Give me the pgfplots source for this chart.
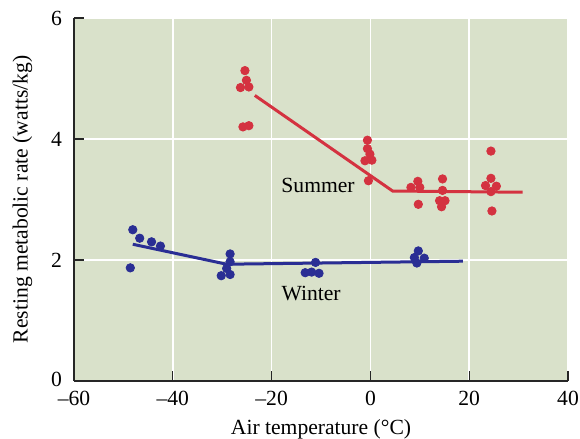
\documentclass[border=0pt]{standalone}
\usepackage{fontspec}
\setmainfont{Liberation Serif}
\usepackage{pgfplots}
\pgfplotsset{compat=1.18}
\definecolor{bgcol}{RGB}{217,225,202}
\definecolor{summer}{RGB}{212,50,64}
\definecolor{winter}{RGB}{42,46,148}
\begin{document}
\begin{tikzpicture}
\begin{axis}[
  scale only axis, width=247pt, height=181.5pt,
  xmin=-60, xmax=40, ymin=0, ymax=6,
  axis lines*=left,
  axis line style={line width=0.6pt, black!85},
  axis background/.style={fill=bgcol},
  xtick={-60,-40,-20,0,20,40}, xticklabels={–60,–40,–20,0,20,40},
  ytick={0,2,4,6}, yticklabels={\raisebox{1.2pt}{0},2,4,6},
  tick align=inside, major tick length=5pt,
  tick style={line width=0.6pt, black!85},
  grid=major, major grid style={white, line width=0.8pt},
  xlabel={Air temperature (°C)},
  ylabel={Resting metabolic rate (watts/kg)},
  label style={font=\fontsize{10.8}{12}\selectfont},
  tick label style={font=\fontsize{10.8}{12}\selectfont},
  yticklabel style={xshift=-2.5pt},
  xticklabel style={yshift=-1.5pt},
  ylabel style={yshift=2.5pt},
  clip=false,
]
% summer
\addplot[only marks, mark=*, mark size=2.1pt, color=summer] coordinates {
  (-25.4,5.13) (-25.1,4.97) (-26.3,4.85) (-24.6,4.86) (-25.8,4.20) (-24.6,4.22)
  (-0.6,3.98) (-0.6,3.84) (-0.1,3.75) (-1.1,3.64) (0.3,3.65) (-0.4,3.31)
  (8.2,3.20) (9.6,3.30) (10.0,3.20) (9.7,2.92)
  (14.6,3.34) (14.6,3.15) (14.0,2.98) (15.1,2.98) (14.4,2.88)
  (24.4,3.80) (24.4,3.35) (23.3,3.23) (25.5,3.22) (24.4,3.13) (24.6,2.81)
};
\addplot[summer, line width=1.5pt] coordinates {(-23.4,4.72) (4.5,3.14) (30.8,3.12)};
% winter
\addplot[only marks, mark=*, mark size=2.1pt, color=winter] coordinates {
  (-48.1,2.50) (-46.7,2.36) (-44.3,2.30) (-42.5,2.23) (-48.6,1.87)
  (-28.4,2.10) (-28.4,1.97) (-29.1,1.86) (-30.2,1.74) (-28.4,1.76)
  (-11.1,1.96) (-13.2,1.79) (-11.9,1.80) (-10.4,1.78)
  (9.7,2.15) (8.9,2.04) (10.9,2.03) (9.4,1.95)
};
\addplot[winter, line width=1.5pt] coordinates {(-48.1,2.26) (-29.1,1.93) (18.7,1.98)};
\node[font=\fontsize{10.8}{12}\selectfont] at (axis cs:-10.6,3.23) {Summer};
\node[font=\fontsize{10.8}{12}\selectfont] at (axis cs:-12,1.45) {Winter};
\end{axis}
\pgfresetboundingbox
\path[use as bounding box] ([shift={(-37pt,-29pt)}]current axis.south west)
  rectangle ([shift={(6pt,9pt)}]current axis.north east);
\end{tikzpicture}
\end{document}
